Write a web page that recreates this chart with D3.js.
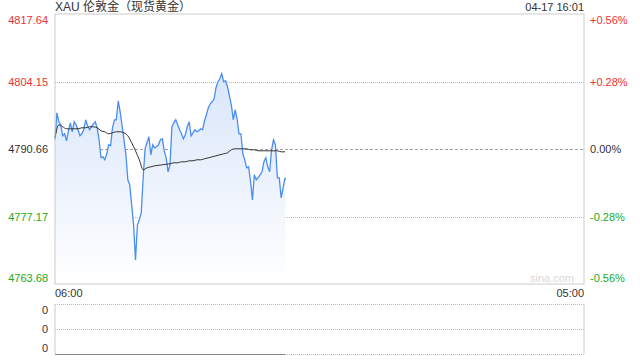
<!DOCTYPE html>
<html lang="zh">
<head>
<meta charset="UTF-8" />
<title>XAU 伦敦金</title>
<script src="https://d3js.org/d3.v7.min.js"></script>
<style>
  body { margin: 0; background: #fff; }
  svg { display: block; font-family: "Liberation Sans", Arial, sans-serif; }
  .axis text { font-size: 11px; }
</style>
</head>
<body>
<svg id="chart" width="640" height="360"></svg>
<script>
// price every 5 minutes from 06:00, last point at 16:01
const prices = [
  4792.5, 4797.9, 4796.1, 4795.5, 4793.3, 4793.7, 4792.3, 4794.3, 4795.9, 4794.1,
  4796.1, 4795.5, 4794.5, 4793.3, 4793.7, 4794.5, 4796.5, 4795.3, 4794.5, 4795.1,
  4795.7, 4796.1, 4794.9, 4792.5, 4788.9, 4789.1, 4788.5, 4789.7, 4791.5, 4791.3,
  4794.9, 4796.5, 4796.5, 4800.3, 4798.1, 4795.3, 4792.5, 4789.5, 4784.5, 4783.5,
  4779.5, 4775.5, 4768.5, 4775.5, 4776.5, 4777.9, 4784.9, 4790.7, 4791.9, 4793.1,
  4789.5, 4791.5, 4790.9, 4791.1, 4791.5, 4792.5, 4792.7, 4790.3, 4788.9, 4786.1,
  4787.5, 4795.1, 4795.9, 4796.5, 4795.5, 4794.5, 4793.7, 4792.7, 4793.5, 4795.1,
  4796.1, 4793.3, 4793.9, 4794.5, 4794.1, 4794.3, 4794.7, 4794.5, 4796.3, 4797.5,
  4798.9, 4799.7, 4800.1, 4800.7, 4802.9, 4804.1, 4804.7, 4805.7, 4804.1, 4804.3,
  4803.1, 4801.3, 4799.5, 4796.5, 4798.5, 4796.7, 4793.7, 4793.7, 4789.7, 4788.5,
  4786.9, 4787.1, 4784.3, 4780.5, 4785.5, 4784.5, 4784.9, 4785.5, 4786.1, 4788.1,
  4788.9, 4787.1, 4786.1, 4790.5, 4792.5, 4791.5, 4784.9, 4784.9, 4780.9, 4782.9,
  4784.9, 4784.5
];
const priceStep = 5;
const lastMinute = 601;

// average price every 10 minutes
const avgPrices = [
  4792.9, 4795.5, 4795.1, 4794.7, 4794.7, 4794.7, 4794.7, 4794.9, 4794.9, 4795.1,
  4795.1, 4794.9, 4794.3, 4794.1, 4793.7, 4793.9, 4794.1, 4794.1, 4793.9, 4793.3,
  4791.9, 4790.3, 4788.5, 4786.5, 4786.9, 4787.1, 4787.3, 4787.4, 4787.5, 4787.6,
  4787.7, 4787.9, 4787.9, 4788.1, 4788.1, 4788.3, 4788.3, 4788.5, 4788.5, 4788.7,
  4788.9, 4789.1, 4789.3, 4789.5, 4789.7, 4789.9, 4790.5, 4790.7, 4790.7, 4790.7,
  4790.7, 4790.5, 4790.5, 4790.3, 4790.3, 4790.3, 4790.3, 4790.3, 4790.3, 4790.1,
  4790.1
];
const avgStep = 10;

const priceTicks = ["4817.64", "4804.15", "4790.66", "4777.17", "4763.68"];
const pctTicks = ["+0.56%", "+0.28%", "0.00%", "-0.28%", "-0.56%"];
const timeLabels = ["06:00", "05:00"];
const volTicks = [2, 1, 0];

const title = "XAU 伦敦金（现货黄金）";
const stamp = "04-17 16:01";

const svg = d3.select("#chart");
const plotL = 55, plotR = 584, plotT = 14, plotB = 284;
const volT = 304, volB = 354;

const x = d3.scaleLinear().domain([0, 1380]).range([plotL, plotR]);
const y = d3.scaleLinear().domain([4763.68, 4817.64]).range([plotB, plotT]);
const yVol = d3.scaleLinear().domain([0, 2]).range([volB, volT]);

const pricePts = prices.map((p, i) => [Math.min(i * priceStep, lastMinute), p]);
const avgPts = avgPrices.map((p, i) => [i * avgStep, p]);

const tickColor = i => i < 2 ? "#f03030" : (i > 2 ? "#22aa22" : "#333");

// gradient fill
const grad = svg.append("defs").append("linearGradient")
  .attr("id", "fill").attr("gradientUnits", "userSpaceOnUse")
  .attr("x1", 0).attr("x2", 0).attr("y1", 70).attr("y2", plotB);
grad.append("stop").attr("offset", 0).attr("stop-color", "#d8e5fa");
grad.append("stop").attr("offset", 1).attr("stop-color", "#ffffff");

// grid lines
svg.append("g").selectAll("line")
  .data(priceTicks.slice(1, 4))
  .join("line")
  .attr("x1", plotL).attr("x2", plotR)
  .attr("y1", d => Math.round(y(+d)) + 0.5).attr("y2", d => Math.round(y(+d)) + 0.5)
  .attr("stroke", (d, i) => i === 1 ? "#a0a0a0" : "#bbbbbb")
  .attr("stroke-dasharray", (d, i) => i === 1 ? "3,2" : "1,1");

// area and lines
svg.append("path")
  .datum(pricePts)
  .attr("fill", "url(#fill)")
  .attr("d", d3.area().x(d => x(d[0])).y0(plotB).y1(d => y(d[1])));

svg.append("path")
  .datum(pricePts)
  .attr("fill", "none")
  .attr("stroke", "#4a8ef0")
  .attr("stroke-width", 1.3)
  .attr("d", d3.line().x(d => x(d[0])).y(d => y(d[1])));

svg.append("path")
  .datum(avgPts)
  .attr("fill", "none")
  .attr("stroke", "#333")
  .attr("stroke-width", 1)
  .attr("d", d3.line().curve(d3.curveMonotoneX).x(d => x(d[0])).y(d => y(d[1])));

// frame
svg.append("rect")
  .attr("x", plotL).attr("y", plotT)
  .attr("width", plotR - plotL).attr("height", plotB - plotT)
  .attr("fill", "none").attr("stroke", "#ccc");

// left axis
const yAxisL = svg.append("g").attr("class", "axis")
  .attr("transform", `translate(${plotL - 4},0)`)
  .call(d3.axisLeft(y).tickValues(priceTicks.map(Number)).tickSize(0).tickFormat((d, i) => priceTicks[i]));
yAxisL.select(".domain").remove();
yAxisL.selectAll("text")
  .attr("fill", (d, i) => tickColor(i))
  .attr("transform", (d, i) => i === 0 ? "translate(0,6)" : i === 4 ? "translate(0,-6)" : null);

// right axis
const yAxisR = svg.append("g").attr("class", "axis")
  .attr("transform", `translate(${plotR + 6},0)`)
  .call(d3.axisRight(y).tickValues(priceTicks.map(Number)).tickSize(0).tickFormat((d, i) => pctTicks[i]));
yAxisR.select(".domain").remove();
yAxisR.selectAll("text")
  .attr("x", 0)
  .attr("fill", (d, i) => tickColor(i))
  .attr("transform", (d, i) => i === 0 ? "translate(0,6)" : i === 4 ? "translate(0,-6)" : null);

// time labels
svg.append("text").attr("x", plotL).attr("y", 297)
  .attr("font-size", 11).attr("fill", "#333").text(timeLabels[0]);
svg.append("text").attr("x", plotR).attr("y", 297).attr("text-anchor", "end")
  .attr("font-size", 11).attr("fill", "#333").text(timeLabels[1]);

// watermark
svg.append("text").attr("x", plotR - 10).attr("y", 282).attr("text-anchor", "end")
  .attr("font-size", 11).attr("fill", "#d8d8d8").text("sina.com");

// title and stamp
svg.append("text").attr("x", plotL).attr("y", 11)
  .attr("font-size", 12).attr("fill", "#333")
  .attr("font-family", "'Liberation Sans', 'Noto Sans CJK SC', sans-serif")
  .text(title);
svg.append("text").attr("x", plotR).attr("y", 11).attr("text-anchor", "end")
  .attr("font-size", 11).attr("fill", "#333").text(stamp);

// volume panel
svg.append("g").selectAll("line")
  .data(volTicks)
  .join("line")
  .attr("x1", plotL).attr("x2", plotR)
  .attr("y1", d => yVol(d) + 0.5).attr("y2", d => yVol(d) + 0.5)
  .attr("stroke", "#bbbbbb").attr("stroke-dasharray", "1,1");
svg.append("line").attr("x1", plotL).attr("x2", plotL)
  .attr("y1", volT).attr("y2", volB).attr("stroke", "#ccc");
svg.append("line").attr("x1", plotR).attr("x2", plotR)
  .attr("y1", volT).attr("y2", volB).attr("stroke", "#ccc");
svg.append("line").attr("x1", x(0)).attr("x2", x(lastMinute))
  .attr("y1", yVol(0) + 0.5).attr("y2", yVol(0) + 0.5).attr("stroke", "#888");

const volAxis = svg.append("g").attr("class", "axis")
  .attr("transform", `translate(${plotL - 4},0)`)
  .call(d3.axisLeft(yVol).tickValues(volTicks).tickSize(0).tickFormat(() => "0"));
volAxis.select(".domain").remove();
volAxis.selectAll("text")
  .attr("fill", "#333")
  .attr("transform", (d, i) => i === 0 ? "translate(0,6)" : i === 2 ? "translate(0,-6)" : null);
</script>
</body>
</html>
